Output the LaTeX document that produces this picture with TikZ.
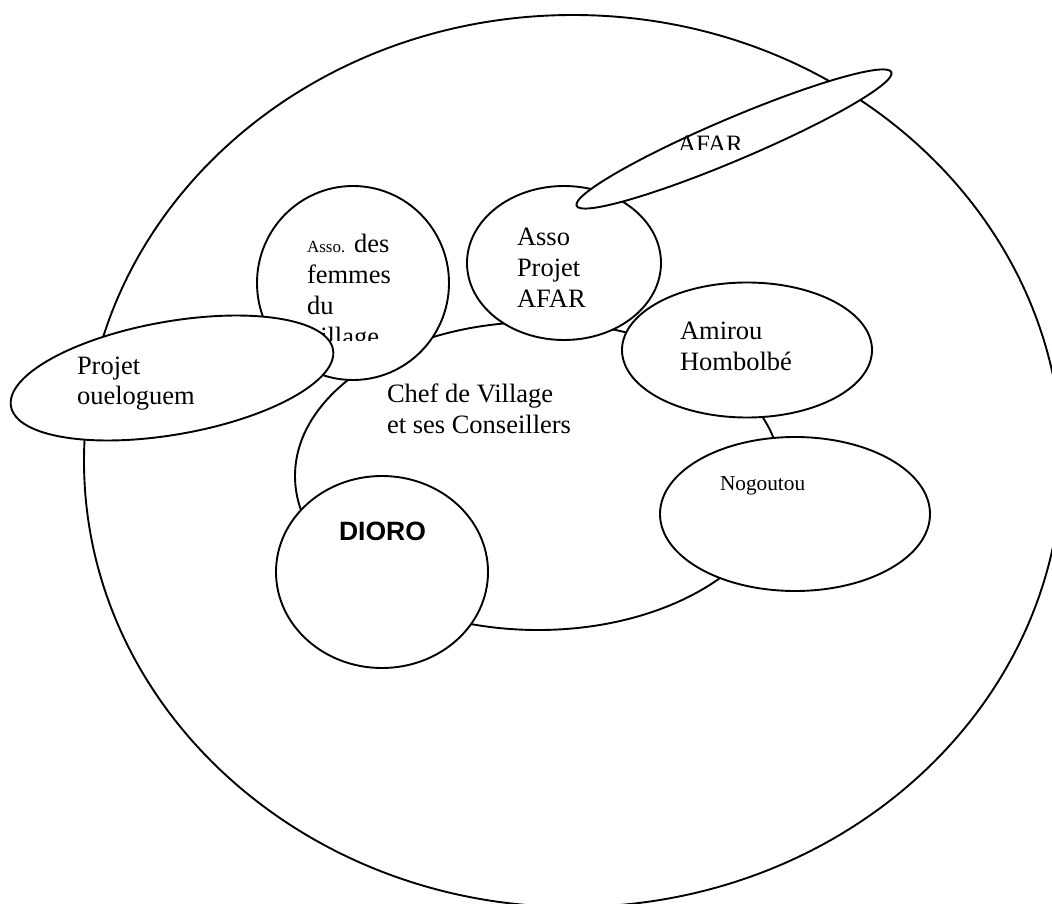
\documentclass[tikz,border=0pt]{standalone}
\usepackage{fontspec}
\setmainfont{Liberation Serif}
\newfontfamily\arialfont{Liberation Sans}
\usetikzlibrary{shapes.geometric}
\tikzset{
  bubble/.style={ellipse, draw=black, fill=white, line width=1.9pt, inner sep=0pt, outer sep=0pt},
  lbl/.style={anchor=base west, inner sep=0pt, outer sep=0pt, font=\fontsize{26.5}{31}\selectfont},
  smalllbl/.style={anchor=base west, inner sep=0pt, outer sep=0pt, font=\fontsize{21.3}{25}\selectfont},
  boldlbl/.style={anchor=base west, inner sep=0pt, outer sep=0pt, font=\arialfont\bfseries\fontsize{26.5}{31}\selectfont},
  afarlbl/.style={anchor=base west, inner sep=0pt, outer sep=0pt, font=\fontsize{25}{30}\selectfont}
}
\begin{document}
\begin{tikzpicture}[x=1pt,y=-1pt]
\useasboundingbox (0,0) rectangle (1052,904);
\clip (0,0) rectangle (1052,904);
\fill[white] (0,0) rectangle (1052,904);
% outer community circle
\node[bubble, fill=none, minimum width=978pt, minimum height=892pt] (village) at (573,461) {};
% chief ellipse
\node[bubble, minimum width=486pt, minimum height=308pt] (chef) at (538,476) {};
% surrounding actors
\node[bubble, minimum width=192pt, minimum height=194pt] (femmes) at (353,283) {};
\node[bubble, minimum width=194pt, minimum height=154pt] (assoafar) at (564,263) {};
\node[bubble, minimum width=250pt, minimum height=135pt] (amirou) at (747,350) {};
\node[bubble, minimum width=270pt, minimum height=154pt] (nogoutou) at (795,514) {};
\node[bubble, minimum width=212pt, minimum height=192pt] (dioro) at (382,572) {};
% texts
\begin{scope}
  \clip (250,180) rectangle (450,340);
  \node[lbl] (tf1) at (307,252) {{\fontsize{17}{20}\selectfont Asso.} des};
  \node[lbl] (tf2) at (307,283) {femmes};
  \node[lbl] (tf3) at (307,314) {du};
  \node[lbl] (tf4) at (307,345) {village};
\end{scope}
\node[lbl] (ta1) at (517,245) {Asso};
\node[lbl] (ta2) at (517,276) {Projet};
\node[lbl] (ta3) at (517,307) {AFAR};
\node[lbl] (tm1) at (680,339) {Amirou};
\node[lbl] (tm2) at (680,370) {Hombolbé};
\node[lbl] (tc1) at (387,402) {Chef de Village};
\node[lbl] (tc2) at (387,433) {et ses Conseillers};
\node[smalllbl] (tn) at (720,490) {Nogoutou};
\node[boldlbl] (td) at (339,540) {DIORO};
% Projet oueloguem
\node[bubble, rotate=10, minimum width=327pt, minimum height=113pt] (oueloguem) at (172,378) {};
\node[lbl] (to1) at (77,374) {Projet};
\node[lbl] (to2) at (77,404) {oueloguem};
% AFAR
\node[bubble, rotate=23, minimum width=342pt, minimum height=42pt] (afar) at (734,139) {};
\begin{scope}
  \clip (660,110) rectangle (780,150);
  \node[afarlbl] (tafar) at (678,153) {AFAR};
\end{scope}
\end{tikzpicture}
\end{document}
